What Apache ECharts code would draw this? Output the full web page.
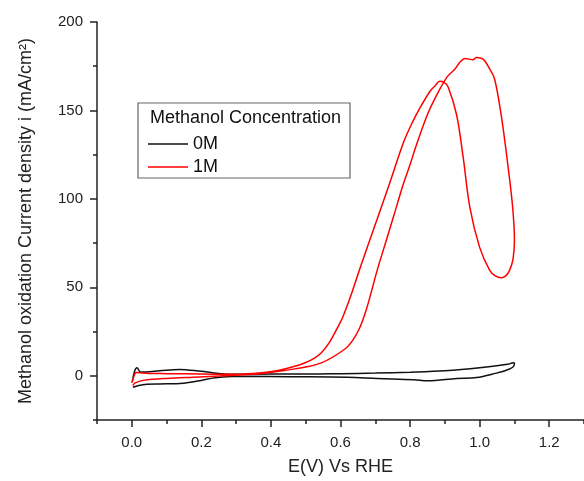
<!DOCTYPE html>
<html>
<head>
<meta charset="utf-8">
<script src="https://cdn.jsdelivr.net/npm/echarts@6/dist/echarts.min.js"></script>
<style>
  html, body { margin: 0; padding: 0; background: #fff; }
  #chart { width: 584px; height: 481px; }
</style>
</head>
<body>
<div id="chart"></div>
<script>
// 1M methanol: forward scan then reverse scan (E in V, i in mA/cm2)
const redFwdE = [0.003, 0.01, 0.033, 0.1, 0.194, 0.28, 0.374, 0.469, 0.545, 0.612, 0.635, 0.655, 0.672, 0.688, 0.706, 0.73, 0.754, 0.78, 0.801, 0.815, 0.849, 0.872, 0.906, 0.929, 0.943, 0.958, 0.981, 0.991, 1.01, 1.029, 1.043, 1.062, 1.081, 1.095, 1.1];
const redFwdI = [-5.5, -4, -2.6, -1.5, -0.7, 0.2, 1.3, 3.9, 7.3, 15, 20, 27, 36, 47, 60, 75.5, 91, 108, 120, 128.6, 147.3, 157, 168.8, 173.4, 177.2, 179.4, 178.6, 180, 179, 173.4, 167.8, 147.3, 119.3, 95, 76.4];
const redRevE = [1.096, 1.086, 1.075, 1.062, 1.045, 1.029, 1.0, 0.972, 0.953, 0.934, 0.91, 0.896, 0.886, 0.872, 0.858, 0.83, 0.806, 0.782, 0.745, 0.706, 0.659, 0.63, 0.607, 0.593, 0.57, 0.545, 0.525, 0.5, 0.469, 0.42, 0.374, 0.3, 0.2, 0.1, 0.05, 0.013, 0.005, 0.0];
const redRevI = [66, 59.6, 56.5, 55.4, 56.5, 59.6, 72.6, 95, 123, 147.3, 163, 166.2, 166.5, 164, 161, 152, 143, 132.4, 111, 88.9, 62.5, 45.5, 33.4, 27.8, 19.5, 13, 10, 7.5, 5.4, 3, 1.7, 0.8, 1.0, 1.2, 1.3, 1.8, -1, -4];

// 0M: lower branch then upper branch
const blackFwdE = [0.003, 0.02, 0.043, 0.08, 0.128, 0.19, 0.24, 0.337, 0.45, 0.62, 0.706, 0.811, 0.85, 0.934, 0.991, 1.048, 1.075, 1.095, 1.1];
const blackFwdI = [-6.5, -5.5, -4.8, -4.6, -4.5, -3, -1.1, -0.3, -0.5, -0.8, -1.5, -2.2, -2.8, -1.5, -1, 1.5, 3, 4.8, 7];
const blackRevE = [1.097, 1.08, 1.0, 0.9, 0.8, 0.7, 0.6, 0.5, 0.4, 0.29, 0.2, 0.137, 0.08, 0.04, 0.025, 0.015, 0.008, 0.002];
const blackRevI = [7.3, 6.5, 4.5, 2.8, 2, 1.5, 1.2, 1.0, 1.0, 0.8, 2.5, 3.6, 2.8, 2.2, 2.2, 4.5, 2.5, -3];

const xLabels = [0, 0.2, 0.4, 0.6, 0.8, 1.0, 1.2];
const yLabels = [0, 50, 100, 150, 200];
const seriesNames = ['0M', '1M'];
const legendTitle = 'Methanol Concentration';

function pairs(es, is) {
    return es.map((e, k) => [e, is[k]]);
}

const chart = echarts.init(document.getElementById('chart'));
const font = '"Liberation Sans", Arial, sans-serif';

const axisLine = { show: true, onZero: false, lineStyle: { color: '#222', width: 1.5 } };
const hiddenLine = { show: false, onZero: false };

chart.setOption({
    animation: false,
    backgroundColor: '#fff',
    grid: { left: 97, top: 22, right: -5, bottom: 57 },
    xAxis: [{
        type: 'value', min: -0.1, max: 1.3, interval: 0.1,
        name: 'E(V) Vs RHE', nameLocation: 'middle', nameGap: 38,
        nameTextStyle: { fontSize: 18, color: '#222', fontFamily: font },
        axisLine: axisLine,
        axisTick: { show: true, customValues: xLabels, length: 7, lineStyle: { color: '#222', width: 1.5 } },
        axisLabel: { customValues: xLabels, margin: 15, fontSize: 15, color: '#222', fontFamily: font,
            formatter: v => v.toFixed(1) },
        splitLine: { show: false }
    }, {
        type: 'value', min: -0.1, max: 1.3, interval: 0.1, position: 'bottom',
        axisLine: hiddenLine,
        axisTick: { show: true, length: 4, lineStyle: { color: '#222', width: 1.5 } },
        axisLabel: { show: false },
        splitLine: { show: false }
    }],
    yAxis: [{
        type: 'value', min: -25, max: 200, interval: 25,
        name: 'Methanol oxidation Current density i (mA/cm\u00b2)', nameLocation: 'middle', nameGap: 62,
        nameTextStyle: { fontSize: 18, color: '#222', fontFamily: font },
        axisLine: axisLine,
        axisTick: { show: true, customValues: yLabels, length: 7, lineStyle: { color: '#222', width: 1.5 } },
        axisLabel: { customValues: yLabels, margin: 14, fontSize: 15, color: '#222', fontFamily: font },
        splitLine: { show: false }
    }, {
        type: 'value', min: -25, max: 200, interval: 25, position: 'left',
        axisLine: hiddenLine,
        axisTick: { show: true, length: 4, lineStyle: { color: '#222', width: 1.5 } },
        axisLabel: { show: false },
        splitLine: { show: false }
    }],
    legend: {
        data: seriesNames,
        orient: 'vertical',
        left: 143, top: 130, z: 5,
        icon: 'rect',
        itemWidth: 40, itemHeight: 1.5, itemGap: 5,
        textStyle: { fontSize: 18, color: '#111', fontFamily: font }
    },
    graphic: [{
        type: 'rect', z: 1,
        shape: { x: 138, y: 103, width: 212, height: 75 },
        style: { fill: 'rgba(255,255,255,0)', stroke: '#666', lineWidth: 1.2 }
    }, {
        type: 'text', z: 6, left: 150, top: 109,
        style: { text: legendTitle, font: '18px ' + font, fill: '#111' }
    }],
    series: [{
        name: seriesNames[0], type: 'line', smooth: 0.35, symbol: 'none',
        lineStyle: { color: '#111', width: 1.5 }, itemStyle: { color: '#111' },
        data: pairs(blackFwdE.concat(blackRevE), blackFwdI.concat(blackRevI))
    }, {
        name: seriesNames[1], type: 'line', smooth: 0.35, symbol: 'none',
        lineStyle: { color: '#ff0000', width: 1.5 }, itemStyle: { color: '#ff0000' },
        data: pairs(redFwdE.concat(redRevE), redFwdI.concat(redRevI))
    }]
});
</script>
</body>
</html>
